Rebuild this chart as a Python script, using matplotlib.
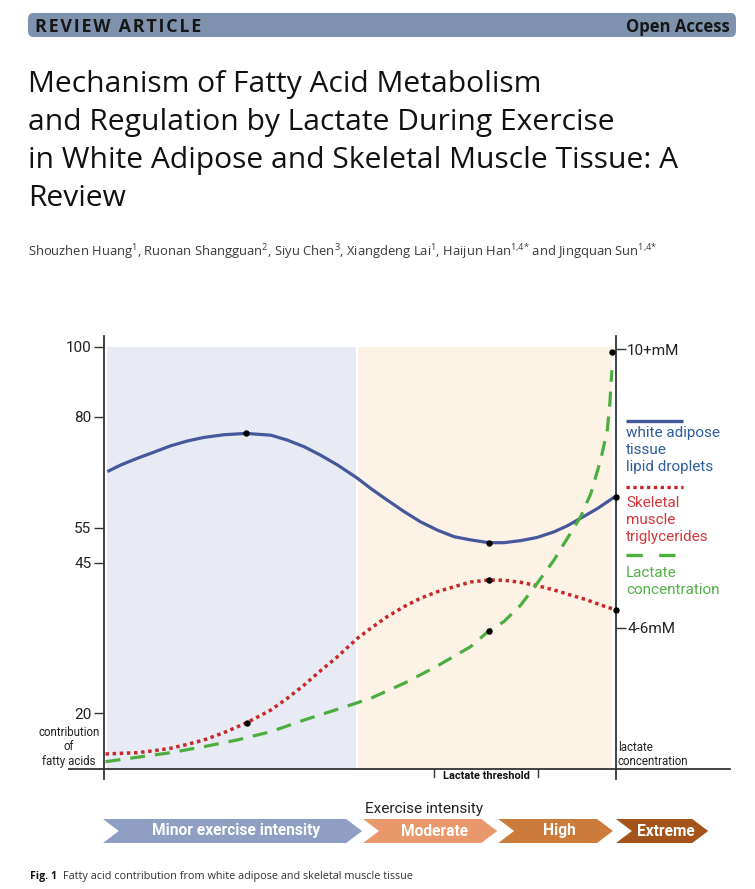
import numpy as np
import matplotlib
matplotlib.use("Agg")
import matplotlib.pyplot as plt
from matplotlib.patches import Polygon, FancyBboxPatch
from matplotlib.transforms import blended_transform_factory

# ---- data ----
# x is exercise intensity in % of the drawn axis (0 = left axis, 100 = right axis)
wat_x = [0.65, 3.3, 6.5, 9.8, 13.0, 16.3, 19.5, 23.4, 27.7, 32.6, 35.8, 39.1, 42.3, 45.6, 49.5, 52.1,
         55.3, 58.6, 61.8, 65.1, 68.4, 71.6, 75.2, 78.1, 81.4, 84.6, 87.9, 90.5, 93.1, 96.4, 99.6, 100.0]
wat_y = [67.7, 69.2, 70.7, 72.1, 73.5, 74.6, 75.4, 76.0, 76.3, 75.9, 74.8, 73.3, 71.4, 69.2, 66.2, 63.9,
         61.3, 58.7, 56.4, 54.4, 52.5, 51.6, 50.8, 50.8, 51.4, 52.3, 53.9, 55.5, 57.2, 59.4, 61.9, 62.0]

smt_x = [0.3, 3.3, 6.5, 9.8, 13.0, 16.3, 19.5, 23.4, 27.9, 32.6, 35.8, 39.1, 42.3, 45.6, 49.5, 52.1,
         55.3, 58.6, 61.8, 65.1, 68.4, 71.6, 75.2, 78.1, 81.4, 84.6, 87.9, 91.1, 94.4, 97.0, 100.0]
smt_y = [13.17, 13.28, 13.38, 13.72, 14.12, 14.78, 15.5, 16.72, 18.38, 20.5, 22.45, 24.67, 27.05, 29.38,
         32.45, 34.12, 36.05, 37.72, 39.12, 40.22, 41.05, 41.83, 42.17, 42.12, 41.78, 41.22, 40.5, 39.67,
         38.83, 38.0, 37.17]

# lactate in mM (right axis)
lac_x = [0.3, 6.5, 13.0, 19.5, 26.0, 32.6, 39.1, 45.6, 52.1, 58.6, 65.1, 71.6, 75.2, 78.1, 81.4, 84.6,
         87.9, 91.1, 93.1, 95.1, 97.0, 98.3, 98.8, 99.2]
lac_y = [2.604, 2.683, 2.765, 2.873, 2.993, 3.142, 3.351, 3.543, 3.740, 4.009, 4.319, 4.665, 4.952, 5.113,
         5.412, 5.80, 6.219, 6.697, 6.995, 7.414, 8.011, 8.548, 9.03, 9.62]

wat_dots_x = [27.7, 75.2, 100.0]
wat_dots_y = [76.3, 50.8, 62.0]
smt_dots_x = [27.9, 75.2, 100.0]
smt_dots_y = [18.38, 42.17, 37.17]
lac_dots_x = [75.2, 99.2]
lac_dots_y = [4.952, 9.95]

left_ticks = [100, 80, 55, 45, 20]
right_ticks = [5, 10]
right_labels = ["4-6mM", "10+mM"]

zones = [(0.6, 49.2, "#e8ebf3"), (49.6, 99.2, "#fdf2e6")]
threshold = (64.5, 84.8)

phases = ["Minor exercise intensity", "Moderate", "High", "Extreme"]
phase_start = [-0.2, 50.6, 77.0, 100.0]
phase_end = [50.4, 76.8, 99.4, 118.0]
phase_colors = ["#8f9ec3", "#e8986a", "#cc7b3b", "#a4541b"]

title_lines = ["Mechanism of Fatty Acid Metabolism",
               "and Regulation by Lactate During Exercise",
               "in White Adipose and Skeletal Muscle Tissue: A",
               "Review"]
authors = (r"Shouzhen Huang$^{\mathrm{1}}$, Ruonan Shangguan$^{\mathrm{2}}$, Siyu Chen$^{\mathrm{3}}$, "
           r"Xiangdeng Lai$^{\mathrm{1}}$, Haijun Han$^{\mathrm{1{,}4{*}}}$ and Jingquan Sun$^{\mathrm{1{,}4{*}}}$")

plt.rcParams["font.family"] = ["Roboto", "DejaVu Sans"]
plt.rcParams["mathtext.fontset"] = "custom"
plt.rcParams["mathtext.rm"] = "Open Sans"

W, H = 755, 889
fig = plt.figure(figsize=(W / 100, H / 100), dpi=100)
fig.patch.set_facecolor("white")

def fx(px):
    return px / W

def fy(py):
    return 1 - py / H

# ---- article header ----
bar = FancyBboxPatch((fx(28), fy(37)), fx(736) - fx(28), fy(13) - fy(37),
                     boxstyle="round,pad=0,rounding_size=0.007",
                     transform=fig.transFigure, facecolor="#7f92ad", edgecolor="none")
fig.patches.append(bar)
fig.text(fx(35), fy(32), "\u200a".join("REVIEW ARTICLE"), family=["Open Sans", "DejaVu Sans"],
         weight="bold", fontsize=12.9, color="#161616", va="baseline")
fig.text(fx(730), fy(32), "Open Access", family="Open Sans", weight="bold",
         fontsize=12, color="#161616", va="baseline", ha="right")

for i, line in enumerate(title_lines):
    fig.text(fx(28), fy(92 + 38 * i), line, family="Open Sans", fontsize=21.6,
             color="#111111", va="baseline")

fig.text(fx(28), fy(256), authors, family="Open Sans", fontsize=9.35,
         color="#3a3a3a", va="baseline")

# ---- chart ----
# the y axis is schematic: tick spacing is not linear
knot_v = [-100, 20, 45, 55, 80, 100, 200]
knot_h = [-720, 0, 150, 185, 296, 366, 716]

def fwd(v):
    return np.interp(np.asarray(v, float), knot_v, knot_h)

def inv(h):
    return np.interp(np.asarray(h, float), knot_h, knot_v)

ax_l, ax_r, ax_t, ax_b = 104, 616, 336, 769
ax = fig.add_axes([fx(ax_l), fy(ax_b), fx(ax_r) - fx(ax_l), fy(ax_t) - fy(ax_b)])
ax.set_facecolor("none")
ax.set_yscale("function", functions=(fwd, inv))
ax.set_xlim(0, 100)
ybot, ytop = 10.667, 103.14
ax.set_ylim(ybot, ytop)

for x0, x1, c in zones:
    ax.fill_between([x0, x1], ybot, 100, color=c, lw=0, zorder=0)

ax.plot(wat_x, wat_y, color="#46589c", lw=2.3, solid_capstyle="butt", zorder=3)
ax.plot(smt_x, smt_y, color="#c8282a", lw=2.5, dashes=(1, 1.05), zorder=3)
ax.plot(wat_dots_x, wat_dots_y, "o", color="black", ms=3.6, zorder=5, clip_on=False)
ax.plot(smt_dots_x, smt_dots_y, "o", color="black", ms=3.6, zorder=5, clip_on=False)

for s in ax.spines.values():
    s.set_visible(False)
ax.set_yticks(left_ticks)
ax.set_yticklabels([str(t) for t in left_ticks])
ax.yaxis.set_minor_locator(matplotlib.ticker.NullLocator())
ax.tick_params(axis="y", length=7.5, width=1, color="#333333", pad=1.5,
               labelsize=11, labelcolor="#222222")
ax.set_xticks([])

axc = "#333333"
ax.plot([0, 0], [-10 / 433, 1], transform=ax.transAxes, color=axc, lw=1.3, clip_on=False)
ax.plot([1, 1], [-10 / 433, 1], transform=ax.transAxes, color=axc, lw=1.3, clip_on=False)
ax.plot([-35 / 512, 626 / 512], [0, 0], transform=ax.transAxes, color=axc, lw=1.3, clip_on=False)

bt = blended_transform_factory(ax.transData, ax.transAxes)
for xt in threshold:
    ax.plot([xt, xt], [0, -8 / 433], transform=bt, color=axc, lw=1, clip_on=False)
ax.text(np.mean(threshold), -7 / 433, "Lactate threshold", transform=bt, ha="center",
        va="center", fontsize=7.9, weight="bold", color="#111111")

ax.text(-35 / 512, 43 / 433, "contribution\nof\nfatty acids", transform=ax.transAxes,
        ha="center", va="top", fontsize=8.3, linespacing=1.13, color="#222222")
ax.text(1 + 2 / 512, 28 / 433, "lactate\nconcentration", transform=ax.transAxes,
        ha="left", va="top", fontsize=8.3, linespacing=1.13, color="#222222")

# right axis: lactate
ax2 = ax.twinx()
ax2.set_ylim(2.473, 10.233)
ax2.plot(lac_x, lac_y, color="#4cae3e", lw=2.3, dashes=(4.7, 3.1), zorder=3)
ax2.plot(lac_dots_x, lac_dots_y, "o", color="black", ms=3.6, zorder=5, clip_on=False)
for s in ax2.spines.values():
    s.set_visible(False)
ax2.set_yticks(right_ticks)
ax2.set_yticklabels(right_labels)
ax2.tick_params(axis="y", length=7.5, width=1, color="#333333", pad=0.5,
                labelsize=11, labelcolor="#222222")

# legend drawn beside the right axis
leg_x0, leg_x1 = 626, 683
leg = [("white adipose\ntissue\nlipid droplets", "#46589c", "#2f5d9e", dict(solid_capstyle="butt"), 421, 426),
       ("Skeletal\nmuscle\ntriglycerides", "#c8282a", "#d2373a", dict(dashes=(1, 1.05)), 487, 496),
       ("Lactate\nconcentration", "#4cae3e", "#54b04a", dict(dashes=(4.9, 4.9)), 555, 566)]
for label, lc, tc, style, ly, ty in leg:
    fig.lines.append(plt.Line2D([fx(leg_x0), fx(leg_x1)], [fy(ly), fy(ly)], transform=fig.transFigure,
                                color=lc, lw=2.4, **style))
    fig.text(fx(leg_x0), fy(ty), label, color=tc, fontsize=11, va="top", linespacing=1.28)

# exercise intensity chevrons
fig.text(fx(424), fy(809), "Exercise intensity", ha="center", va="center", fontsize=11, color="#222222")
yt, yb = (ax_b - 819) / 433, (ax_b - 843) / 433
ym = (yt + yb) / 2
notch = 3.1
for name, x0, x1, c in zip(phases, phase_start, phase_end, phase_colors):
    verts = [(x0, yt), (x1 - notch, yt), (x1, ym), (x1 - notch, yb), (x0, yb), (x0 + notch, ym)]
    ax.add_patch(Polygon(verts, closed=True, transform=bt, facecolor=c, edgecolor="none", clip_on=False))
    ax.text((x0 + x1) / 2 + notch / 4, ym, name, transform=bt, ha="center", va="center",
            fontsize=11.2, weight="bold", color="white")

# caption
fig.text(fx(30), fy(879), "Fig. 1", family="Open Sans", weight="bold", fontsize=7.6,
         color="#111111", va="baseline")
fig.text(fx(63), fy(879), "Fatty acid contribution from white adipose and skeletal muscle tissue",
         family="Open Sans", fontsize=7.85, color="#333333", va="baseline")

fig.savefig("out.png", dpi=100)
